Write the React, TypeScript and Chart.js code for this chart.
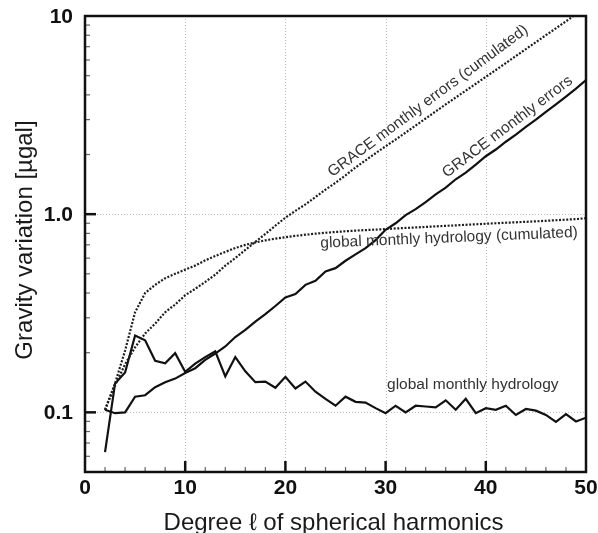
import { useEffect, useRef } from "react";
import Chart from "chart.js/auto";

// ---------- data ----------
const degrees = [
  2, 3, 4, 5, 6, 7, 8, 9, 10, 11, 12, 13, 14, 15, 16, 17, 18, 19, 20, 21, 22, 23, 24, 25, 26,
  27, 28, 29, 30, 31, 32, 33, 34, 35, 36, 37, 38, 39, 40, 41, 42, 43, 44, 45, 46, 47, 48, 49, 50,
];

const graceErrors = [
  0.103, 0.099, 0.1, 0.12, 0.122, 0.134, 0.142, 0.148, 0.158, 0.167, 0.184, 0.198, 0.215, 0.24,
  0.261, 0.287, 0.313, 0.344, 0.38, 0.395, 0.44, 0.461, 0.514, 0.534, 0.582, 0.627, 0.674, 0.74,
  0.834, 0.9, 0.99, 1.06, 1.15, 1.26, 1.36, 1.5, 1.62, 1.78, 1.96, 2.12, 2.32, 2.52, 2.76, 3.0,
  3.28, 3.58, 3.92, 4.3, 4.75,
];

const hydrology = [
  0.063, 0.14, 0.159, 0.244, 0.231, 0.182, 0.177, 0.199, 0.16, 0.176, 0.19, 0.203, 0.152, 0.19,
  0.161, 0.142, 0.143, 0.133, 0.151, 0.132, 0.143, 0.127, 0.117, 0.108, 0.12, 0.113, 0.112, 0.105,
  0.099, 0.108, 0.1, 0.108, 0.107, 0.106, 0.115, 0.103, 0.117, 0.099, 0.105, 0.103, 0.108, 0.097,
  0.104, 0.102, 0.097, 0.0895, 0.098, 0.09, 0.094,
];

const graceCumulated = [
  0.103, 0.137, 0.175, 0.213, 0.25, 0.28, 0.32, 0.35, 0.39, 0.42, 0.455, 0.495, 0.55, 0.6, 0.66,
  0.725, 0.795, 0.875, 0.96, 1.04, 1.12, 1.22, 1.33, 1.44, 1.57, 1.72, 1.87, 2.03, 2.2, 2.38, 2.58,
  2.8, 3.04, 3.3, 3.58, 3.88, 4.2, 4.55, 4.93, 5.34, 5.79, 6.28, 6.81, 7.38, 8.0, 8.67, 9.4, 10.2,
  11.0,
];

const hydrologyCumulated = [
  0.103, 0.14, 0.205, 0.32, 0.4, 0.44, 0.475, 0.5, 0.525, 0.55, 0.585, 0.615, 0.645, 0.675, 0.7,
  0.72, 0.738, 0.752, 0.765, 0.777, 0.788, 0.797, 0.806, 0.813, 0.82, 0.826, 0.831, 0.836, 0.841,
  0.847, 0.852, 0.857, 0.862, 0.868, 0.873, 0.878, 0.884, 0.889, 0.895, 0.9, 0.905, 0.91, 0.915,
  0.92, 0.926, 0.932, 0.938, 0.944, 0.955,
];

const seriesNames = [
  "GRACE monthly errors (cumulated)",
  "GRACE monthly errors",
  "global monthly hydrology (cumulated)",
  "global monthly hydrology",
];

const xTickValues = [0, 10, 20, 30, 40, 50];
const xTickLabels = ["0", "10", "20", "30", "40", "50"];
const yTickValues = [0.1, 1, 10];
const yTickLabels = ["0.1", "1.0", "10"];

const xTitle = "Degree \u2113 of spherical harmonics";
const yTitle = "Gravity variation [\u00b5gal]";

// label anchors in data coordinates (x, y) with rotation in degrees
const labelAnchors = [
  { text: seriesNames[0], x: 34.23, y: 3.72, angle: -36.5 },
  { text: seriesNames[1], x: 42.17, y: 2.76, angle: -37 },
  { text: seriesNames[2], x: 36.33, y: 0.758, angle: -2.4 },
  { text: seriesNames[3], x: 38.7, y: 0.1375, angle: 0 },
];

const FONT = "'Liberation Sans', Arial, Helvetica, sans-serif";

const decor = {
  id: "decor",
  beforeDatasetsDraw(chart: any) {
    const { ctx, chartArea: a, scales } = chart;
    const x = scales.x;
    const y = scales.y;
    ctx.save();
    ctx.strokeStyle = "#bdbdbd";
    ctx.lineWidth = 1;
    ctx.setLineDash([1, 2]);
    for (const v of xTickValues) {
      if (v <= x.min || v >= x.max) continue;
      const px = Math.round(x.getPixelForValue(v)) + 0.5;
      ctx.beginPath();
      ctx.moveTo(px, a.top);
      ctx.lineTo(px, a.bottom);
      ctx.stroke();
    }
    for (const v of yTickValues) {
      if (v <= y.min || v >= y.max) continue;
      const py = Math.round(y.getPixelForValue(v)) + 0.5;
      ctx.beginPath();
      ctx.moveTo(a.left, py);
      ctx.lineTo(a.right, py);
      ctx.stroke();
    }
    ctx.restore();
  },
  afterDatasetsDraw(chart: any) {
    const { ctx, chartArea: a, scales } = chart;
    const x = scales.x;
    const y = scales.y;
    ctx.save();
    ctx.setLineDash([]);
    // x ticks (inside)
    for (let v = x.min; v <= x.max; v += 2) {
      if (v === x.min || v === x.max) continue;
      const major = v % 10 === 0;
      const px = x.getPixelForValue(v);
      ctx.strokeStyle = major ? "#111" : "#666";
      ctx.lineWidth = major ? 2.5 : 1.2;
      ctx.beginPath();
      ctx.moveTo(px, a.bottom);
      ctx.lineTo(px, a.bottom - (major ? 11 : 5));
      ctx.stroke();
    }
    // y ticks (inside)
    for (let e = -2; e <= 1; e++) {
      for (let m = 1; m <= 9; m++) {
        const v = m * Math.pow(10, e);
        if (v <= y.min * 1.001 || v >= y.max * 0.999) continue;
        const major = m === 1;
        const py = y.getPixelForValue(v);
        ctx.strokeStyle = major ? "#111" : "#666";
        ctx.lineWidth = major ? 2.5 : 1.2;
        ctx.beginPath();
        ctx.moveTo(a.left, py);
        ctx.lineTo(a.left + (major ? 11 : 5), py);
        ctx.stroke();
      }
    }
    // frame
    ctx.strokeStyle = "#111";
    ctx.lineWidth = 2.5;
    ctx.strokeRect(a.left, a.top, a.right - a.left, a.bottom - a.top);

    // tick labels
    ctx.fillStyle = "#111";
    ctx.font = `bold 21px ${FONT}`;
    ctx.textAlign = "center";
    ctx.textBaseline = "middle";
    xTickValues.forEach((v, i) => {
      ctx.fillText(xTickLabels[i], x.getPixelForValue(v), a.bottom + 16);
    });
    ctx.textAlign = "right";
    yTickValues.forEach((v, i) => {
      ctx.fillText(yTickLabels[i], a.left - 12, y.getPixelForValue(v) + 1);
    });

    // series labels
    ctx.fillStyle = "#333";
    ctx.font = `15.5px ${FONT}`;
    ctx.textAlign = "center";
    ctx.textBaseline = "middle";
    for (const l of labelAnchors) {
      const px = x.getPixelForValue(l.x);
      const py = y.getPixelForValue(l.y);
      ctx.save();
      ctx.translate(px, py);
      ctx.rotate((l.angle * Math.PI) / 180);
      ctx.fillText(l.text, 0, 0);
      ctx.restore();
    }

    // axis titles
    ctx.fillStyle = "#1a1a1a";
    ctx.font = `24px ${FONT}`;
    ctx.textAlign = "center";
    ctx.textBaseline = "alphabetic";
    ctx.fillText(xTitle, (a.left + a.right) / 2 - 2, a.bottom + 58);
    ctx.save();
    ctx.translate(a.left - 53, (a.top + a.bottom) / 2 - 4);
    ctx.rotate(-Math.PI / 2);
    ctx.fillText(yTitle, 0, 0);
    ctx.restore();
    ctx.restore();
  },
};

export default function App() {
  const ref = useRef<HTMLCanvasElement | null>(null);

  useEffect(() => {
    if (!ref.current) return;
    const toPoints = (arr: number[]) => degrees.map((d, i) => ({ x: d, y: arr[i] }));
    const solid = { borderColor: "#111", borderWidth: 2.2, pointRadius: 0, fill: false, tension: 0 };
    const dotted = {
      borderColor: "#1e1e1e",
      borderWidth: 2.2,
      borderDash: [2, 1.6],
      pointRadius: 0,
      fill: false,
      tension: 0,
    };
    const chart = new Chart(ref.current, {
      type: "line",
      data: {
        datasets: [
          { label: seriesNames[0], data: toPoints(graceCumulated), ...dotted },
          { label: seriesNames[1], data: toPoints(graceErrors), ...solid },
          { label: seriesNames[2], data: toPoints(hydrologyCumulated), ...dotted },
          { label: seriesNames[3], data: toPoints(hydrology), ...solid },
        ],
      } as any,
      options: {
        animation: false,
        responsive: false,
        maintainAspectRatio: false,
        layout: { padding: { top: 16, right: 12, left: 0, bottom: 0 } },
        plugins: { legend: { display: false }, tooltip: { enabled: false } },
        scales: {
          x: {
            type: "linear",
            min: 0,
            max: 50,
            afterBuildTicks: (s: any) => {
              s.ticks = xTickValues.map((v) => ({ value: v }));
            },
            afterFit: (s: any) => {
              s.height = 61;
            },
            grid: { display: false },
            border: { display: false },
            ticks: { display: false },
          },
          y: {
            type: "logarithmic",
            min: 0.05,
            max: 10,
            afterBuildTicks: (s: any) => {
              s.ticks = yTickValues.map((v) => ({ value: v }));
            },
            afterFit: (s: any) => {
              s.width = 85;
            },
            grid: { display: false },
            border: { display: false },
            ticks: { display: false },
          },
        },
      } as any,
      plugins: [decor],
    });
    return () => chart.destroy();
  }, []);

  return (
    <div style={{ position: "fixed", left: 0, top: 0, width: 598, height: 533, background: "#fff" }}>
      <canvas ref={ref} width={598} height={533} style={{ display: "block" }} />
    </div>
  );
}
